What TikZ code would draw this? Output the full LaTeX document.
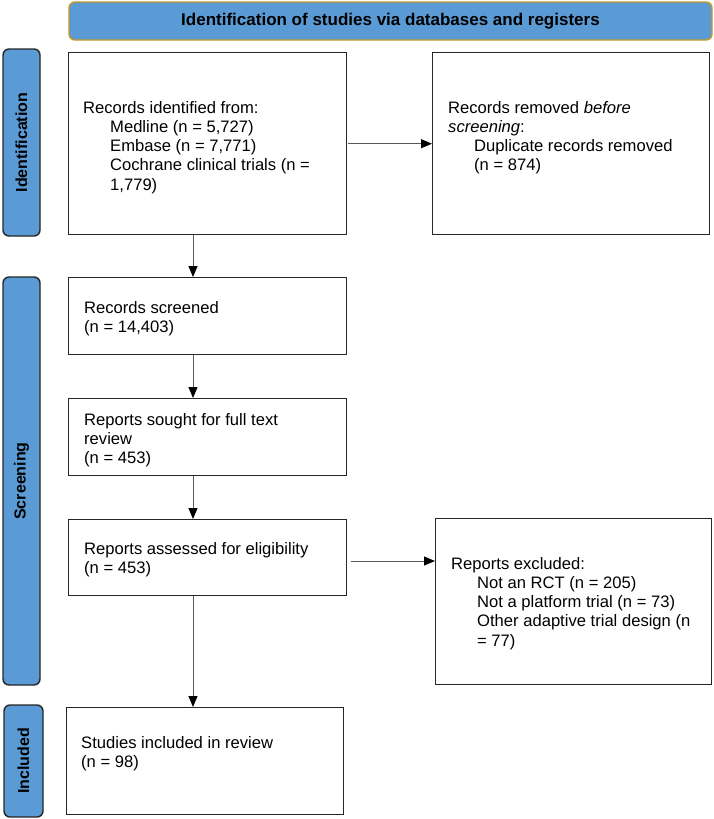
\documentclass[tikz,border=0pt]{standalone}
\usepackage{fontspec}
\setmainfont{Liberation Sans}
\usetikzlibrary{arrows.meta}
\definecolor{hdrblue}{HTML}{5B9BD5}
\definecolor{hdrgold}{HTML}{C49A22}
\begin{document}
\begin{tikzpicture}[x=1pt,y=-1pt,
  box/.style={draw=black!85, line width=1.4pt, fill=white, anchor=north west, inner sep=0pt},
  txt/.style={anchor=north west, align=left, inner sep=0pt, font=\fontsize{16.6pt}{19.25pt}\selectfont},
  bar/.style={draw=black!85, line width=1.4pt, fill=hdrblue, rounded corners=6pt, inner sep=0pt, font=\bfseries\fontsize{16pt}{19pt}\selectfont},
  banner/.style={draw=hdrgold, line width=1.4pt, fill=hdrblue, rounded corners=6pt, inner sep=0pt, font=\bfseries\fontsize{17pt}{20pt}\selectfont},
  arr/.style={draw=black!65, line width=1pt, -{Triangle[length=11pt,width=9pt,color=black]}}]
\useasboundingbox (0,0) rectangle (714,819);

% header and side bars
\node[banner, minimum width=643pt, minimum height=38pt] (hdr) at (390.5,21) {Identification of studies via databases and registers};
\node[bar, rotate=90, minimum width=187pt, minimum height=37pt] (sid) at (21.5,142.5) {Identification};
\node[bar, rotate=90, minimum width=408pt, minimum height=37pt] (ssc) at (21.5,481) {Screening};
\node[bar, rotate=90, minimum width=112pt, minimum height=39pt] (sin) at (23.5,761) {Included};

% boxes
\node[box, minimum width=278pt, minimum height=182pt] (b1) at (68,52) {};
\node[box, minimum width=277pt, minimum height=182pt] (b2) at (432,52) {};
\node[box, minimum width=278pt, minimum height=77pt] (bs) at (68,277) {};
\node[box, minimum width=278pt, minimum height=77pt] (b3) at (68,398) {};
\node[box, minimum width=278pt, minimum height=76pt] (b4) at (68,519) {};
\node[box, minimum width=276pt, minimum height=166pt] (b5) at (435,518) {};
\node[box, minimum width=277pt, minimum height=107pt] (b6) at (66,707) {};

% texts
\node[txt] (t1) at (83,101) {Records identified from:\\\hspace*{27pt}Medline (n = 5,727)\\\hspace*{27pt}Embase (n = 7,771)\\\hspace*{27pt}Cochrane clinical trials (n =\\\hspace*{27pt}1,779)};
\node[txt] (t2) at (448,101) {Records removed \textit{before}\\\textit{screening}:\\\hspace*{26pt}Duplicate records removed\\\hspace*{26pt}(n = 874)};
\node[txt] (ts) at (84,301) {Records screened\\(n = 14,403)};
\node[txt] (t3) at (84,413) {Reports sought for full text\\review\\(n = 453)};
\node[txt] (t4) at (84,542) {Reports assessed for eligibility\\(n = 453)};
\node[txt] (t5) at (451,557) {Reports excluded:\\\hspace*{26pt}Not an RCT (n = 205)\\\hspace*{26pt}Not a platform trial (n = 73)\\\hspace*{26pt}Other adaptive trial design (n\\\hspace*{26pt}= 77)};
\node[txt] (t6) at (81,736) {Studies included in review\\(n = 98)};

% connectors
\coordinate (ax) at (193,0);
\coordinate (ay) at (0,561);
\draw[arr] (ax |- b1.south) -- (ax |- bs.north);
\draw[arr] (ax |- bs.south) -- (ax |- b3.north);
\draw[arr] (ax |- b3.south) -- (ax |- b4.north);
\draw[arr] (ax |- b4.south) -- (ax |- b6.north);
\draw[arr, shorten <=1pt] (b1.east) -- (b2.west);
\draw[arr, shorten <=4pt] (b4.east |- ay) -- (b5.west |- ay);
\end{tikzpicture}
\end{document}
